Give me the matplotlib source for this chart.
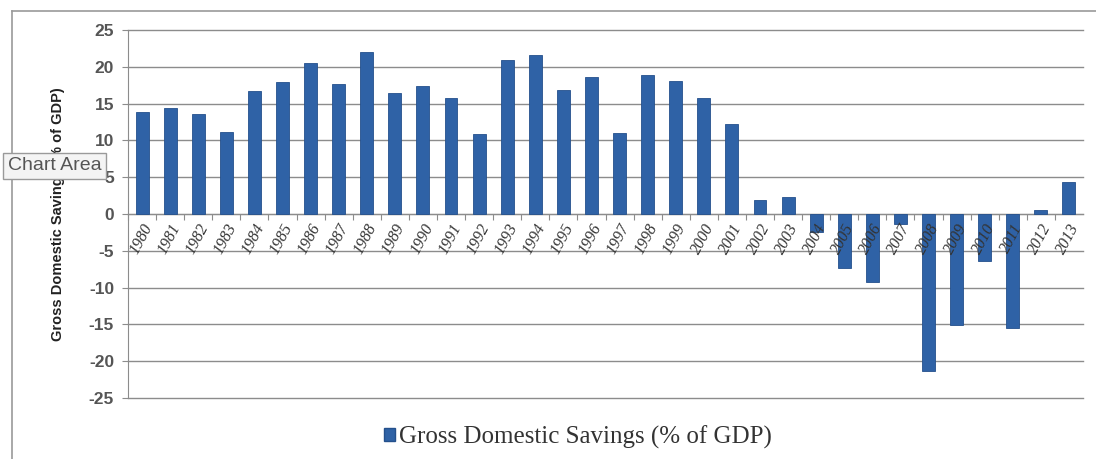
import matplotlib
matplotlib.use("Agg")
from matplotlib import pyplot as plt
from matplotlib.lines import Line2D
from matplotlib.patches import Patch
import numpy as np

years = [str(y) for y in range(1980, 2014)]
savings = [13.8, 14.4, 13.6, 11.2, 16.7, 18.0, 20.5, 17.6, 22.0, 16.5,
           17.4, 15.8, 10.9, 20.9, 21.6, 16.9, 18.6, 11.0, 18.9, 18.1,
           15.8, 12.2, 1.9, 2.3, -2.4, -7.3, -9.3, -1.4, -21.3, -15.1,
           -6.4, -15.5, 0.5, 4.4]
yticks = [25, 20, 15, 10, 5, 0, -5, -10, -15, -20, -25]
series_name = "Gross Domestic Savings (% of GDP)"

bar_color = "#2F62A6"
grid_color = "#8C8C8C"

fig = plt.figure(figsize=(10.96, 4.59), dpi=100)
ax = fig.add_axes([128/1096, 1 - 398/459, (1083 - 128)/1096, (398 - 30)/459])

x = np.arange(len(years))
ax.bar(x, savings, width=0.46, color=bar_color, edgecolor="#24508C", linewidth=0.6, zorder=3)

ax.set_xlim(-0.5, len(years) - 0.5)
ax.set_ylim(-25, 25)
ax.set_yticks(yticks)
ax.set_yticklabels([str(v) for v in yticks], fontsize=12.5, color="#555555",
                   family="Liberation Sans", fontweight="bold")
ax.yaxis.grid(True, color=grid_color, linewidth=1.0, zorder=0)
for gl in ax.get_ygridlines():
    gl.set_clip_on(False)
ax.tick_params(axis="y", length=4, color=grid_color, pad=6)

# category axis sits at zero, labels hang just under it
ax.spines["bottom"].set_position(("data", 0))
ax.spines["bottom"].set_color(grid_color)
ax.spines["left"].set_color(grid_color)
ax.spines["top"].set_visible(False)
ax.spines["right"].set_visible(False)
ax.set_xticks(x - 0.5, minor=False)
ax.set_xticklabels([])
ax.tick_params(axis="x", length=4, color=grid_color, direction="out")
for xi, lab in zip(x, years):
    ax.text(xi - 0.02, -0.9, lab, rotation=62, ha="right", va="top",
            fontsize=11.5, family="Liberation Serif", style="italic",
            color="#333333", rotation_mode="anchor")

ax.set_ylabel(series_name, fontsize=10.5, fontweight="bold",
              family="Liberation Sans", color="#222222", labelpad=17)

leg = fig.legend(handles=[Patch(facecolor=bar_color, edgecolor="#24508C")],
                 labels=[series_name], loc="center", bbox_to_anchor=(578/1096, 1 - 437/459),
                 frameon=False, prop={"family": "Liberation Serif", "size": 18},
                 handlelength=0.45, handleheight=0.45, handletextpad=0.15)
for t in leg.get_texts():
    t.set_color("#333333")

# chart area border (top and left edges visible in the crop)
fig.add_artist(Line2D([12/1096, 12/1096], [0, 1 - 11/459], transform=fig.transFigure,
                      color="#9A9A9A", linewidth=1.2))
fig.add_artist(Line2D([12/1096, 1], [1 - 11/459, 1 - 11/459], transform=fig.transFigure,
                      color="#9A9A9A", linewidth=1.2))

# "Chart Area" tooltip
fig.text(8/1096, 1 - 166/459, "Chart Area", fontsize=14, family="Liberation Sans",
         color="#555555", va="center", ha="left",
         bbox=dict(boxstyle="square,pad=0.25", facecolor="#F4F4F4", edgecolor="#9A9A9A"))

fig.savefig("out.png", dpi=100)
